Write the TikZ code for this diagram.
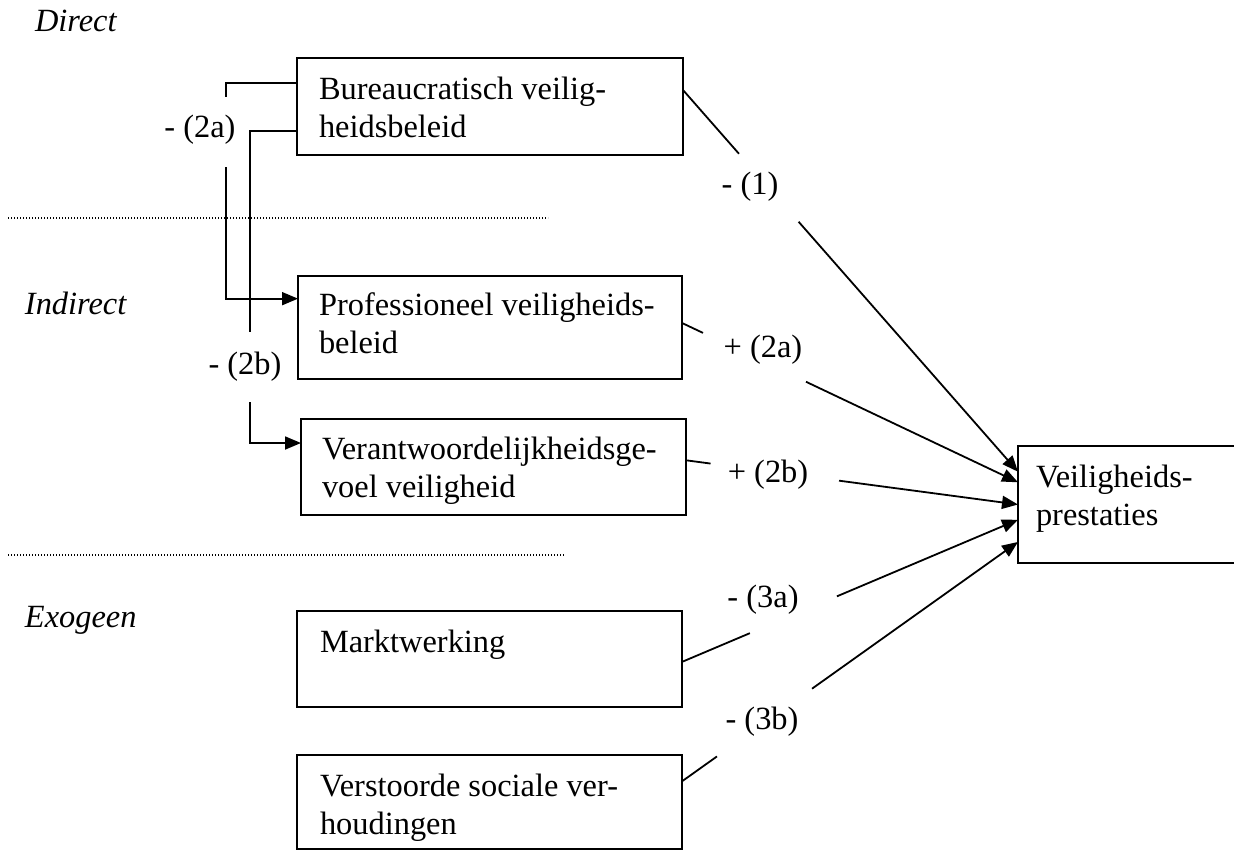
\documentclass[tikz,border=0pt]{standalone}
\usepackage{fontspec}
\setmainfont{Liberation Serif}
\usetikzlibrary{arrows.meta,calc,fit}
\begin{document}
\begin{tikzpicture}[x=0.5pt,y=-0.5pt,
  every node/.style={inner sep=0pt, outer sep=0pt},
  ft/.style={font=\fontsize{16.2}{18.75}\selectfont},
  boxtext/.style={ft, align=left, anchor=base west},
  frame/.style={draw, line width=1pt, inner sep=0pt},
  conn/.style={line width=0.9pt},
  arr/.style={conn, -{Triangle[length=8pt,width=6.5pt]}},
  lbl/.style={ft, anchor=center},
  cat/.style={font=\fontsize{16.2}{18.75}\selectfont\itshape, anchor=base west},
  sep/.style={line width=0.6pt, dash pattern=on 0.6pt off 0.9pt}
]
\useasboundingbox (0,0) rectangle (1234,851);
\clip (0,0) rectangle (1234,851);

% category labels
\node[cat] (cDirect) at (35,31) {Direct};
\node[cat] (cIndirect) at (25,314) {Indirect};
\node[cat] (cExogeen) at (25,627) {Exogeen};

% separators
\draw[sep] (8,218) -- (548,218);
\draw[sep] (8,555) -- (565,555);

% boxes
\node[frame, fit={(297,58) (683,155)}] (B) {};
\node[frame, fit={(298,276) (682,379)}] (P) {};
\node[frame, fit={(301,419) (686,515)}] (V) {};
\node[frame, fit={(297,611) (682,707)}] (M) {};
\node[frame, fit={(297,755) (682,849)}] (S) {};
\node[frame, fit={(1018,446) (1240,563)}] (VP) {};

% box texts (anchor = baseline of last line)
\node[boxtext] (tB) at (319,137) {Bureaucratisch veilig-\\heidsbeleid};
\node[boxtext] (tP) at (319,353) {Professioneel veiligheids-\\beleid};
\node[boxtext] (tV) at (322,497) {Verantwoordelijkheidsge-\\voel veiligheid};
\node[boxtext] (tM) at (320,652) {Marktwerking};
\node[boxtext] (tS) at (320,834) {Verstoorde sociale ver-\\houdingen};
\node[boxtext] (tVP) at (1036,525) {Veiligheids-\\prestaties};

% labels
\node[lbl] (l1) at (750,187) {- (1)};
\node[lbl] (l2a) at (763,350) {+ (2a)};
\node[lbl] (l2b) at (768,475) {+ (2b)};
\node[lbl] (l3a) at (763,600) {- (3a)};
\node[lbl] (l3b) at (762,722) {- (3b)};
\node[lbl] (m2a) at (200,130) {- (2a)};
\node[lbl] (m2b) at (245,367) {- (2b)};

% end points
\coordinate (s1) at ($(B.north east)!0.33!(B.south east)$);
\coordinate (s2a) at ($(P.north east)!0.456!(P.south east)$);
\coordinate (s2b) at ($(V.north east)!0.43!(V.south east)$);
\coordinate (s3a) at ($(M.north east)!0.53!(M.south east)$);
\coordinate (s3b) at ($(S.north east)!0.28!(S.south east)$);
\coordinate (e1) at ($(VP.north west)!0.22!(VP.south west)$);
\coordinate (e2a) at ($(VP.north west)!0.31!(VP.south west)$);
\coordinate (e2b) at ($(VP.north west)!0.50!(VP.south west)$);
\coordinate (e3a) at ($(VP.north west)!0.63!(VP.south west)$);
\coordinate (e3b) at ($(VP.north west)!0.82!(VP.south west)$);

% connectors to Veiligheidsprestaties (interrupted by labels)
\draw[conn] (s1) -- ($(s1)!0.167!(e1)$);
\draw[arr] ($(s1)!0.345!(e1)$) -- (e1);
\draw[conn] (s2a) -- ($(s2a)!0.0625!(e2a)$);
\draw[arr] ($(s2a)!0.369!(e2a)$) -- (e2a);
\draw[conn] (s2b) -- ($(s2b)!0.074!(e2b)$);
\draw[arr] ($(s2b)!0.461!(e2b)$) -- (e2b);
\draw[conn] (s3a) -- ($(s3a)!0.202!(e3a)$);
\draw[arr] ($(s3a)!0.461!(e3a)$) -- (e3a);
\draw[conn] (s3b) -- ($(s3b)!0.104!(e3b)$);
\draw[arr] ($(s3b)!0.387!(e3b)$) -- (e3b);

% left brackets
\coordinate (a2s) at ($(B.north west)!0.26!(B.south west)$);
\coordinate (a2e) at ($(P.north west)!0.22!(P.south west)$);
\coordinate (b2s) at ($(B.north west)!0.75!(B.south west)$);
\coordinate (b2e) at ($(V.north west)!0.25!(V.south west)$);
\coordinate (g2a1) at (226,97);
\coordinate (g2a2) at (226,167);
\coordinate (g2b1) at (250,332);
\coordinate (g2b2) at (250,402);
\draw[conn] (a2s) -| (g2a1);
\draw[arr] (g2a2) |- (a2e);
\draw[conn] (b2s) -| (g2b1);
\draw[arr] (g2b2) |- (b2e);
\end{tikzpicture}
\end{document}
